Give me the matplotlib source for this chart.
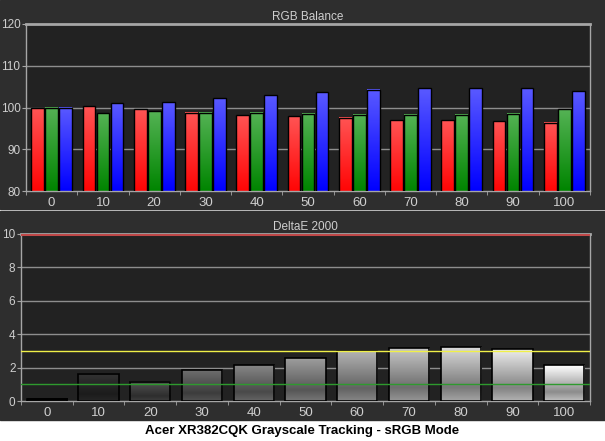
"""Acer XR382CQK grayscale tracking (sRGB mode): RGB balance and DeltaE 2000."""

import matplotlib
matplotlib.use("Agg")
import matplotlib.pyplot as plt
import numpy as np
from matplotlib.patches import Rectangle

levels = [0, 10, 20, 30, 40, 50, 60, 70, 80, 90, 100]
red = [99.8, 100.3, 99.6, 98.8, 98.1, 97.9, 97.6, 96.9, 96.9, 96.7, 96.4]
green = [100.0, 98.6, 99.1, 98.8, 98.8, 98.5, 98.3, 98.3, 98.3, 98.5, 99.6]
blue = [100.0, 101.0, 101.2, 102.2, 102.9, 103.6, 104.2, 104.6, 104.6, 104.6, 103.9]
delta_e = [0.14, 1.62, 1.16, 1.84, 2.14, 2.55, 2.97, 3.15, 3.21, 3.09, 2.14]

rgb_yticks = [80, 90, 100, 110, 120]
de_yticks = [0, 2, 4, 6, 8, 10]
caption = "Acer XR382CQK Grayscale Tracking - sRGB Mode"

PANEL = "#2e2e2e"
PLOT_BG = "#222222"
GRID = "#8e8e8e"
TEXT = "#cfcfcf"
SPINE = "#a6a6a6"
FONT = "Liberation Sans"

plt.rcParams["font.family"] = FONT
plt.rcParams["image.composite_image"] = False


def gradient_fill(ax, bars, top, bottom, mid=None):
    """Replace flat bar faces with a vertical gradient image."""
    top, bottom = np.array(top), np.array(bottom)
    t = np.linspace(0, 1, 64)[:, None]
    if mid is None:
        img = bottom + (top - bottom) * t
    else:
        mid = np.array(mid)
        lo = bottom + (mid - bottom) * np.clip(t / 0.25, 0, 1)
        hi = mid + (top - mid) * np.clip((t - 0.25) / 0.75, 0, 1)
        img = np.where(t < 0.25, lo, hi)
    img = np.clip(img, 0, 1)[:, None, :]
    y0 = ax.get_ylim()[0]
    for b in bars:
        x, w = b.get_x(), b.get_width()
        y1 = b.get_y() + b.get_height()
        ax.imshow(img, extent=(x, x + w, y0, y1), origin="lower",
                  aspect="auto", zorder=2.5, interpolation="bilinear")


def style_axes(ax, title, yticks):
    ax.set_facecolor(PLOT_BG)
    ax.set_xlim(-0.5, len(levels) - 0.5)
    ax.set_ylim(yticks[0], yticks[-1])
    ax.set_yticks(yticks)
    ax.set_xticks(range(len(levels)))
    ax.set_xticklabels([str(v) for v in levels])
    ax.set_xticks(np.arange(len(levels) + 1) - 0.5, minor=True)
    ax.tick_params(axis="x", which="major", length=0, colors=TEXT,
                   labelsize=9.5, pad=4)
    ax.tick_params(axis="x", which="minor", length=3, color=SPINE, direction="out")
    ax.tick_params(axis="y", length=3, color=SPINE, colors=TEXT, labelsize=8.5, pad=1)
    for s in ax.spines.values():
        s.set_color(SPINE)
        s.set_linewidth(1)
    ax.spines["top"].set_linewidth(2)
    for y in yticks[1:-1]:
        ax.axhline(y, color=GRID, lw=1, zorder=0.5)
    ax.set_title(title, color=TEXT, fontsize=8.5, pad=3)


fig = plt.figure(figsize=(6.05, 4.41), dpi=100, facecolor="white")
fig.patches.append(Rectangle((0, 1 - 209 / 441), 1, 209 / 441,
                             transform=fig.transFigure, color=PANEL, zorder=-1))
fig.patches.append(Rectangle((0, 21 / 441), 1, 209 / 441,
                             transform=fig.transFigure, color=PANEL, zorder=-1))

# RGB balance
ax1 = fig.add_axes([26 / 605, 1 - 191 / 441, 564 / 605, 167 / 441])
style_axes(ax1, "RGB Balance", rgb_yticks)
x = np.arange(len(levels))
step, w = 0.273, 0.247
specs = [
    (red, (1.0, 0.33, 0.33), (1.0, 0.02, 0.02)),
    (green, (0.33, 0.70, 0.33), (0.0, 0.52, 0.0)),
    (blue, (0.35, 0.35, 1.0), (0.0, 0.0, 1.0)),
]
for i, (vals, top, bot) in enumerate(specs):
    bars = ax1.bar(x + (i - 1) * step, vals, width=w, facecolor="none",
                   edgecolor="black", linewidth=1, zorder=3)
    gradient_fill(ax1, bars, top, bot)
ax1.set_xlim(-0.5, len(levels) - 0.5)
ax1.set_ylim(rgb_yticks[0], rgb_yticks[-1])

# DeltaE 2000
ax2 = fig.add_axes([21 / 605, 1 - 401 / 441, 569 / 605, 167 / 441])
style_axes(ax2, "DeltaE 2000", de_yticks)
bars = ax2.bar(x, delta_e, width=0.78, facecolor="none", edgecolor="black",
               linewidth=1.2, zorder=3)
for b, lvl in zip(bars, levels):
    shade = (lvl / 100) ** 0.7
    gradient_fill(ax2, [b], (shade,) * 3, (shade * 0.75,) * 3, (shade * 0.55,) * 3)
ax2.axhline(10, color="#c04848", lw=2.2, zorder=4)
ax2.axhline(3, color="#f0f048", lw=1, zorder=4)
ax2.axhline(1, color="#2e9a2e", lw=1, zorder=4)
ax2.set_xlim(-0.5, len(levels) - 0.5)
ax2.set_ylim(de_yticks[0], de_yticks[-1])

fig.text(0.5, 1 - 431 / 441, caption, ha="center", va="center",
         fontsize=9.5, fontweight="bold", color="black")

fig.savefig("out.png", dpi=100, facecolor="white")
